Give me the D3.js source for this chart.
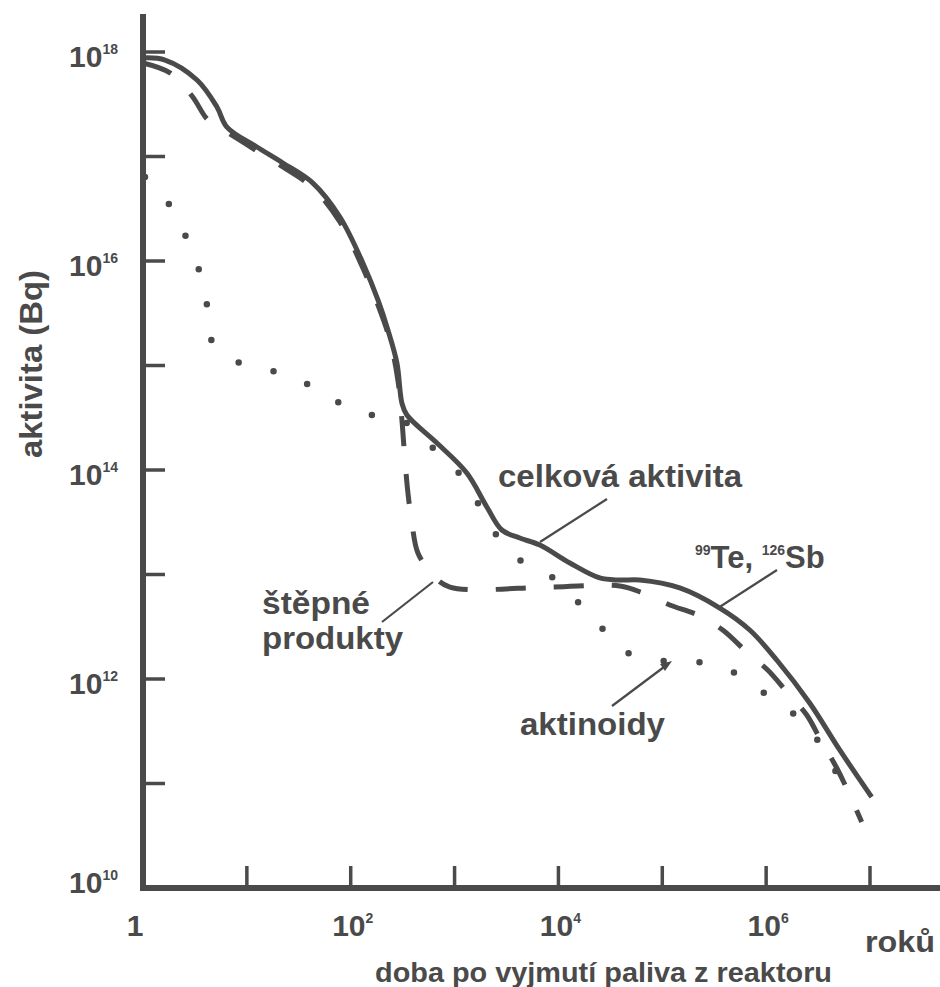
<!DOCTYPE html>
<html>
<head>
<meta charset="utf-8">
<script src="https://cdn.jsdelivr.net/npm/d3@7"></script>
<style>
  body { margin: 0; background: #fff; }
  text { font-family: "Liberation Sans", Arial, sans-serif; font-weight: bold; fill: #4a4a4a; }
</style>
</head>
<body>
<script>
// values are log10 exponents (years, Bq)
var totalT = [0, 0.212, 0.52, 0.712, 0.808, 1.097, 1.347, 1.636, 1.896, 2.117, 2.262, 2.358, 2.445, 2.493, 2.541,
  2.83, 3.118, 3.311, 3.455, 3.628, 3.821, 4.11, 4.398, 4.591, 4.783, 5.168, 5.554, 5.842, 6.102, 6.419, 6.708, 7.016];
var totalA = [17.943, 17.923, 17.732, 17.474, 17.282, 17.091, 16.938, 16.746, 16.421, 15.981, 15.627, 15.34, 15.024, 14.641, 14.526,
  14.258, 13.971, 13.646, 13.426, 13.349, 13.282, 13.11, 12.967, 12.947, 12.947, 12.871, 12.679, 12.469, 12.182, 11.77, 11.321, 10.871];

var fissionT = [0, 0.26, 0.472, 0.626, 0.808, 1.097, 1.347, 1.636, 1.896, 2.117, 2.262, 2.377, 2.454, 2.493, 2.522, 2.551, 2.589, 2.647,
  2.791, 2.955, 3.917, 4.591, 4.812, 5.072, 5.342, 5.582, 5.842, 6.015, 6.208, 6.391, 6.535, 6.68, 6.805, 6.92];
var fissionA = [17.895, 17.8, 17.579, 17.349, 17.234, 17.053, 16.9, 16.699, 16.373, 15.933, 15.579, 15.244, 14.861, 14.478, 14.096, 13.78, 13.493, 13.206,
  12.995, 12.88, 12.88, 12.89, 12.823, 12.708, 12.612, 12.469, 12.23, 12.086, 11.866, 11.656, 11.397, 11.148, 10.89, 10.632];

var actT = [0.019, 0.25, 0.414, 0.539, 0.616, 0.664, 0.914, 1.251, 1.578, 1.877, 2.204, 2.522, 2.791, 3.032, 3.224, 3.388,
  3.628, 3.936, 4.186, 4.417, 4.668, 5.024, 5.342, 5.679, 5.967, 6.256, 6.487, 6.785];
var actA = [16.804, 16.545, 16.23, 15.914, 15.579, 15.234, 15.033, 14.947, 14.823, 14.651, 14.526, 14.459, 14.211, 13.981, 13.684, 13.397,
  13.139, 12.976, 12.737, 12.488, 12.249, 12.172, 12.163, 12.067, 11.876, 11.675, 11.426, 10.89];

var xTickExp = [1, 2, 3, 4, 5, 6, 7];
var xLabelExp = [0, 2, 4, 6];
var yTickExp = [11, 12, 13, 14, 15, 16, 17, 18];
var yLabelExp = [18, 16, 14, 12, 10];

var ink = '#4a4a4a';
var svg = d3.select('body').append('svg').attr('width', 940).attr('height', 987);

var x = d3.scaleLog().domain([1, 1e7]).range([143, 870]);
var y = d3.scaleLog().domain([1e10, 1e18]).range([888, 52]);

function pts(ts, as) {
  return ts.map(function(t, i) { return [Math.pow(10, t), Math.pow(10, as[i])]; });
}
var line = d3.line()
  .x(function(d) { return x(d[0]); })
  .y(function(d) { return y(d[1]); })
  .curve(d3.curveCatmullRom.alpha(0.5));

// axes
svg.append('line').attr('x1', x(1)).attr('x2', x(1)).attr('y1', 14).attr('y2', y(1e10) + 3)
  .attr('stroke', ink).attr('stroke-width', 6);
svg.append('line').attr('x1', x(1) - 3).attr('x2', x(Math.pow(10, 7.7))).attr('y1', y(1e10)).attr('y2', y(1e10))
  .attr('stroke', ink).attr('stroke-width', 6);

svg.selectAll('.ytick').data(yTickExp).enter().append('line').attr('class', 'ytick')
  .attr('x1', x(1)).attr('x2', x(1) + 22)
  .attr('y1', function(d) { return y(Math.pow(10, d)); })
  .attr('y2', function(d) { return y(Math.pow(10, d)); })
  .attr('stroke', ink).attr('stroke-width', 3.5);

svg.selectAll('.xtick').data(xTickExp).enter().append('line').attr('class', 'xtick')
  .attr('x1', function(d) { return x(Math.pow(10, d)); })
  .attr('x2', function(d) { return x(Math.pow(10, d)); })
  .attr('y1', y(1e10)).attr('y2', y(1e10) - 22)
  .attr('stroke', ink).attr('stroke-width', 3.5);

// tick labels
var yl = svg.selectAll('.ylab').data(yLabelExp).enter().append('text').attr('class', 'ylab')
  .attr('x', 118)
  .attr('y', function(d) { return y(Math.pow(10, d)) + (d == 10 ? 5 : 15); })
  .attr('text-anchor', 'end').style('font-size', '30px');
yl.append('tspan').text('10');
yl.append('tspan').attr('dy', -13).style('font-size', '14px').text(function(d) { return d; });

var xl = svg.selectAll('.xlab').data(xLabelExp).enter().append('text').attr('class', 'xlab')
  .attr('x', function(d) { return x(Math.pow(10, d)) + (d == 0 ? -8 : 2); })
  .attr('y', 936)
  .attr('text-anchor', 'middle').style('font-size', '30px');
xl.append('tspan').text(function(d) { return d == 0 ? '1' : '10'; });
xl.append('tspan').attr('dy', -13).style('font-size', '14px').text(function(d) { return d == 0 ? '' : d; });

// axis titles
svg.append('text').attr('x', 865).attr('y', 952).style('font-size', '30px')
  .attr('textLength', 70).attr('lengthAdjust', 'spacingAndGlyphs').text('roků');
svg.append('text').attr('x', 375).attr('y', 982).style('font-size', '27px')
  .attr('textLength', 457).attr('lengthAdjust', 'spacingAndGlyphs').text('doba po vyjmutí paliva z reaktoru');
svg.append('text').attr('transform', 'translate(42,458) rotate(-90)').style('font-size', '31px')
  .attr('textLength', 188).attr('lengthAdjust', 'spacingAndGlyphs').text('aktivita (Bq)');

// curves
svg.append('path').datum(pts(actT, actA)).attr('d', line)
  .attr('fill', 'none').attr('stroke', ink).attr('stroke-width', 6.5)
  .attr('stroke-linecap', 'round').attr('stroke-dasharray', '0 36');
svg.append('path').datum(pts(fissionT, fissionA)).attr('d', line)
  .attr('fill', 'none').attr('stroke', ink).attr('stroke-width', 5)
  .attr('stroke-dasharray', '30 28');
svg.append('path').datum(pts(totalT, totalA)).attr('d', line)
  .attr('fill', 'none').attr('stroke', ink).attr('stroke-width', 5);

// annotations
function leader(x1, y1, x2, y2) {
  svg.append('line').attr('x1', x1).attr('y1', y1).attr('x2', x2).attr('y2', y2)
    .attr('stroke', ink).attr('stroke-width', 2.2);
}
svg.append('text').attr('x', 498).attr('y', 487).style('font-size', '31px')
  .attr('textLength', 244).attr('lengthAdjust', 'spacingAndGlyphs').text('celková aktivita');
leader(607, 499, 540, 542);

var te = svg.append('text').attr('x', 695).attr('y', 568).style('font-size', '31px');
te.append('tspan').attr('dy', -13).style('font-size', '14px').text('99');
te.append('tspan').attr('dy', 13).text('Te, ');
te.append('tspan').attr('dy', -13).style('font-size', '14px').text('126');
te.append('tspan').attr('dy', 13).text('Sb');
leader(777, 570, 718, 608);

svg.append('text').attr('x', 262).attr('y', 614).style('font-size', '31px')
  .attr('textLength', 108).attr('lengthAdjust', 'spacingAndGlyphs').text('štěpné');
svg.append('text').attr('x', 262).attr('y', 649).style('font-size', '31px')
  .attr('textLength', 141).attr('lengthAdjust', 'spacingAndGlyphs').text('produkty');
leader(433, 582, 382, 622);

svg.append('text').attr('x', 520).attr('y', 735).style('font-size', '31px')
  .attr('textLength', 145).attr('lengthAdjust', 'spacingAndGlyphs').text('aktinoidy');
leader(612, 706, 668, 664);
svg.append('path').attr('d', 'M672,661 L660,664 L665,671 Z').attr('fill', ink);
</script>
</body>
</html>
